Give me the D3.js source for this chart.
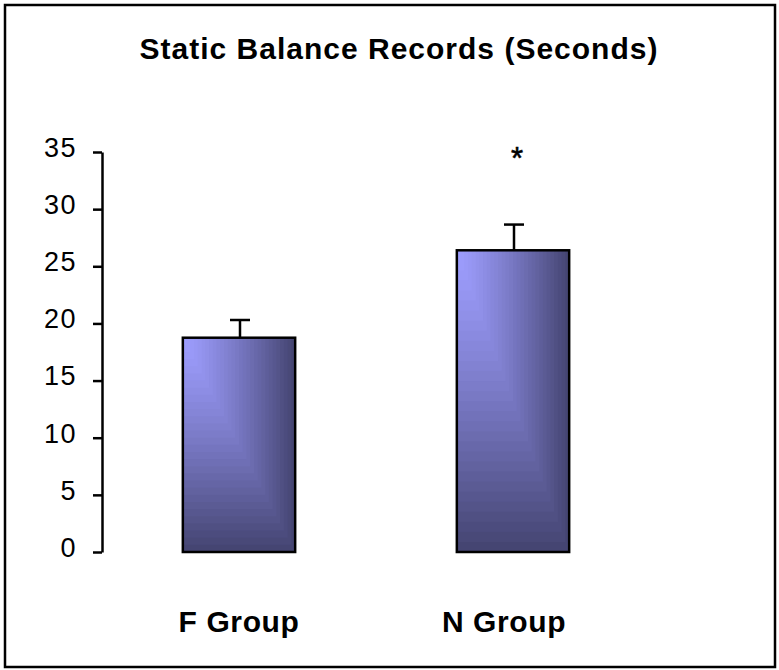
<!DOCTYPE html>
<html>
<head>
<meta charset="utf-8">
<script src="https://cdn.jsdelivr.net/npm/d3@7"></script>
<style>
  body { margin: 0; background: #fff; }
  text { font-family: "Liberation Sans", Arial, sans-serif; fill: #000; }
</style>
</head>
<body>
<div id="chart"></div>
<script>
// values
const groups = ["F Group", "N Group"];
const means = [18.75, 26.4];
const errors = [1.55, 2.25];
const marks = ["", "*"];
const yTicks = [0, 5, 10, 15, 20, 25, 30, 35];
const title = "Static Balance Records (Seconds)";

let width = 779,
    height = 670,
    margin = ({ top: 152, right: 129, bottom: 118, left: 102 });

const svg = d3.select("#chart")
  .append("svg")
  .attr("width", width)
  .attr("height", height);

// outer frame
svg.append("rect")
  .attr("x", 5).attr("y", 5)
  .attr("width", width - 9).attr("height", height - 8)
  .attr("fill", "none")
  .attr("stroke", "#000")
  .attr("stroke-width", 2.5);

svg.append("text")
  .attr("x", 399)
  .attr("y", 59)
  .attr("text-anchor", "middle")
  .attr("font-size", 30)
  .attr("font-weight", "bold")
  .attr("letter-spacing", 1)
  .text(title);

let x = d3.scaleBand()
  .domain(groups)
  .range([margin.left, width - margin.right])
  .paddingInner(0.59)
  .paddingOuter(0.295);

let y = d3.scaleLinear()
  .domain([0, 35])
  .range([height - margin.bottom, margin.top]);

let yAxis = svg.append("g")
  .attr("transform", `translate(${margin.left},0)`)
  .call(d3.axisLeft(y).tickValues(yTicks).tickSize(9).tickSizeOuter(0).tickPadding(16));

yAxis.select(".domain").attr("stroke-width", 2.5);
yAxis.selectAll(".tick line").attr("stroke-width", 2.5);
yAxis.selectAll(".tick text")
  .attr("font-size", 27)
  .attr("font-family", "'Liberation Sans', Arial, sans-serif")
  .attr("letter-spacing", 1.5)
  .attr("dy", "0.16em");

// bars with stepped corner gradient (light at top-left, dark to right/bottom)
let shade = t => d3.interpolateRgb("#9e9eff", "#454572")(Math.pow(t, 1.25));
let steps = 30;

let data = groups.map((g, i) => ({ group: g, mean: means[i], err: errors[i], mark: marks[i] }));

let bars = svg.selectAll(".bar")
  .data(data)
  .join("g")
  .attr("class", "bar");

bars.each(function (d) {
  let g = d3.select(this);
  let bx = x(d.group), bw = x.bandwidth();
  let by = y(d.mean), bh = y(0) - y(d.mean);
  let levels = d3.range(steps, 0, -1).map(k => k / steps);
  g.selectAll("rect.band")
    .data(levels)
    .join("rect")
    .attr("class", "band")
    .attr("x", bx)
    .attr("y", by)
    .attr("width", k => bw * k)
    .attr("height", k => bh * k)
    .attr("fill", k => shade(k));
  g.append("rect")
    .attr("x", bx).attr("y", by)
    .attr("width", bw).attr("height", bh)
    .attr("fill", "none")
    .attr("stroke", "#000")
    .attr("stroke-width", 2.5);
});

// error bars
let cx = d => x(d.group) + x.bandwidth() / 2 + 1;
bars.append("line")
  .attr("x1", cx).attr("x2", cx)
  .attr("y1", d => y(d.mean))
  .attr("y2", d => y(d.mean + d.err))
  .attr("stroke", "#000")
  .attr("stroke-width", 2.5);
bars.append("line")
  .attr("x1", d => cx(d) - 10).attr("x2", d => cx(d) + 10)
  .attr("y1", d => y(d.mean + d.err))
  .attr("y2", d => y(d.mean + d.err))
  .attr("stroke", "#000")
  .attr("stroke-width", 2.5);

// significance mark
bars.append("text")
  .attr("x", d => cx(d) + 3)
  .attr("y", y(35) + 17)
  .attr("text-anchor", "middle")
  .attr("font-size", 31)
  .attr("stroke", "#000")
  .attr("stroke-width", 0.6)
  .text(d => d.mark);

// category labels
svg.selectAll(".cat")
  .data(groups)
  .join("text")
  .attr("class", "cat")
  .attr("x", (d, i) => x(d) + x.bandwidth() / 2 - (i === 1 ? 9 : 0))
  .attr("y", 632)
  .attr("text-anchor", "middle")
  .attr("font-size", 30)
  .attr("font-weight", "bold")
  .attr("letter-spacing", 0.6)
  .text(d => d);
</script>
</body>
</html>
